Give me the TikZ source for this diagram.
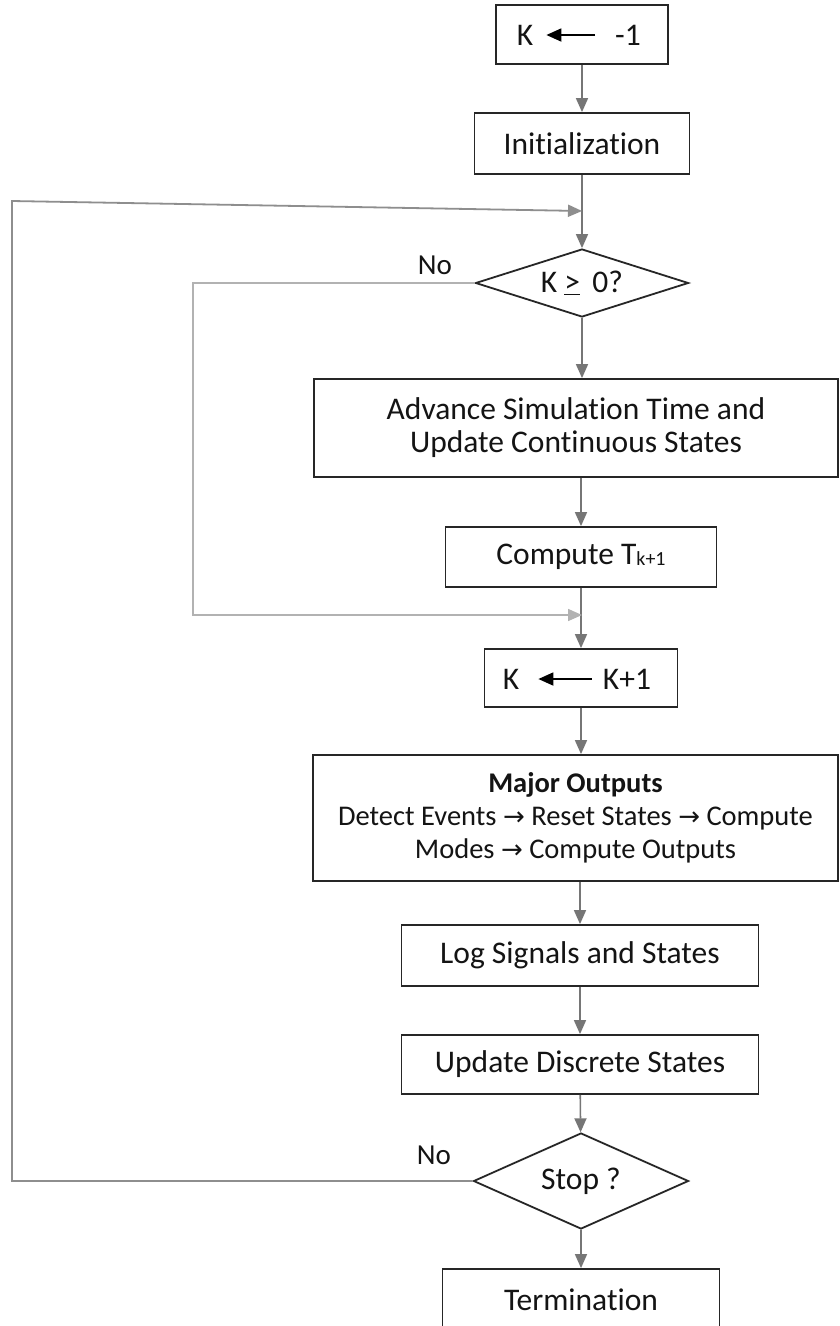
\documentclass[tikz,border=0pt]{standalone}
\usepackage{fontspec}
\setmainfont{Carlito}[Ligatures=NoCommon]
\newfontfamily\arrfont{DejaVu Sans}
\usetikzlibrary{shapes.geometric,arrows.meta}
\definecolor{boxc}{HTML}{262626}
\definecolor{txtc}{HTML}{141414}
\definecolor{arrc}{HTML}{767676}
\definecolor{loopa}{HTML}{8E8E8E}
\definecolor{loopb}{HTML}{B2B2B2}
\begin{document}
\begin{tikzpicture}[x=1pt,y=-1pt,
  box/.style={draw=boxc,line width=1.8pt,rectangle,inner sep=0pt,align=center,
    font=\fontsize{31.5}{33}\selectfont,text=txtc},
  dia/.style={draw=boxc,line width=1.8pt,diamond,inner sep=0pt,align=center,
    font=\fontsize{31.5}{33}\selectfont,text=txtc},
  lab/.style={inner sep=0pt,font=\fontsize{31.5}{33}\selectfont,text=txtc},
  nolab/.style={inner sep=0pt,font=\fontsize{29}{30}\selectfont,text=txtc},
  flow/.style={draw=arrc,line width=1.6pt,-{Triangle[length=14pt,width=12pt]},color=arrc},
  loopA/.style={draw=loopa,line width=1.8pt,-{Triangle[length=14pt,width=12pt]},color=loopa},
  loopB/.style={draw=loopb,line width=1.5pt,-{Triangle[length=14pt,width=12pt]},color=loopb},
  harrow/.style={draw=black,line width=1.8pt,-{Triangle[length=15pt,width=13pt]}},
]
\clip (0,0) rectangle (840,1326);
\fill[white] (0,0) rectangle (840,1326);

% top box K <- -1
\node[box,minimum width=172pt,minimum height=59pt] (b1) at (582,34.5) {};
\node[lab] (b1k) at (525,35) {K};
\node[lab] (b1v) at (628,35) {-1};
\draw[harrow] ([xshift=-20pt]b1v.west) -- ([xshift=13pt]b1k.east);

\node[box,minimum width=215pt,minimum height=61pt] (init) at (582,143.5) {Initialization};

\coordinate (m1) at (582,211);
\node[dia,minimum width=213pt,minimum height=68pt,shape aspect=3.13] (k0) at (582,283) {K \underline{>}\, 0?};
\node[nolab] (no1) at (435,265) {No};

\node[box,minimum width=524pt,minimum height=98pt] (adv) at (576,428)
  {Advance Simulation Time and\\Update Continuous States};

\node[box,minimum width=271pt,minimum height=60pt] (comp) at (581,557)
  {Compute T\raisebox{-1pt}{\fontsize{20}{20}\selectfont k+1}};

\coordinate (m2) at (582,615);

\node[box,minimum width=193pt,minimum height=58pt] (kk) at (581,678) {};
\node[lab] (kkk) at (511,679) {K};
\node[lab] (kkv) at (627,679) {K+1};
\draw[harrow] ([xshift=-11pt]kkv.west) -- ([xshift=19pt]kkk.east);

\node[box,minimum width=525pt,minimum height=126pt,font=\fontsize{28.5}{33}\selectfont] (major) at (575.5,818)
  {{\bfseries Major Outputs}\\
   Detect Events {\arrfont\fontsize{26}{33}\selectfont →} Reset States {\arrfont\fontsize{26}{33}\selectfont →} Compute\\
   Modes {\arrfont\fontsize{26}{33}\selectfont →} Compute Outputs};

\node[box,minimum width=357pt,minimum height=61pt] (log) at (580,955.5) {Log Signals and States};
\node[box,minimum width=357pt,minimum height=59pt] (upd) at (580,1064.5) {Update Discrete States};

\node[dia,minimum width=215pt,minimum height=96pt,shape aspect=2.24] (stop) at (581,1181) {Stop ?};
\node[nolab] (no2) at (434,1155) {No};

\node[box,minimum width=277pt,minimum height=62pt] (term) at (581,1300) {Termination};

% corners of the loops
\coordinate (c1) at (12,1181);
\coordinate (c2) at (12,201);
\coordinate (c3) at (193,283);
\coordinate (c4) at (193,615);

% main flow
\draw[flow] (b1) -- (init);
\draw[flow] (init) -- (k0);
\draw[flow] (k0) -- (k0.south |- adv.north);
\draw[flow] (adv.south -| comp) -- (comp);
\draw[flow] (comp) -- (kk);
\draw[flow] (kk) -- (kk |- major.north);
\draw[flow] (major.south -| log) -- (log);
\draw[flow] (log) -- (upd);
\draw[flow] (upd) -- (stop);
\draw[flow] (stop) -- (term);

% loops
\draw[loopB] (k0.west) -- (c3) -- (c4) -- (m2);
\draw[loopA] (stop.west) -- (c1) -- (c2) -- (m1);
\end{tikzpicture}
\end{document}
